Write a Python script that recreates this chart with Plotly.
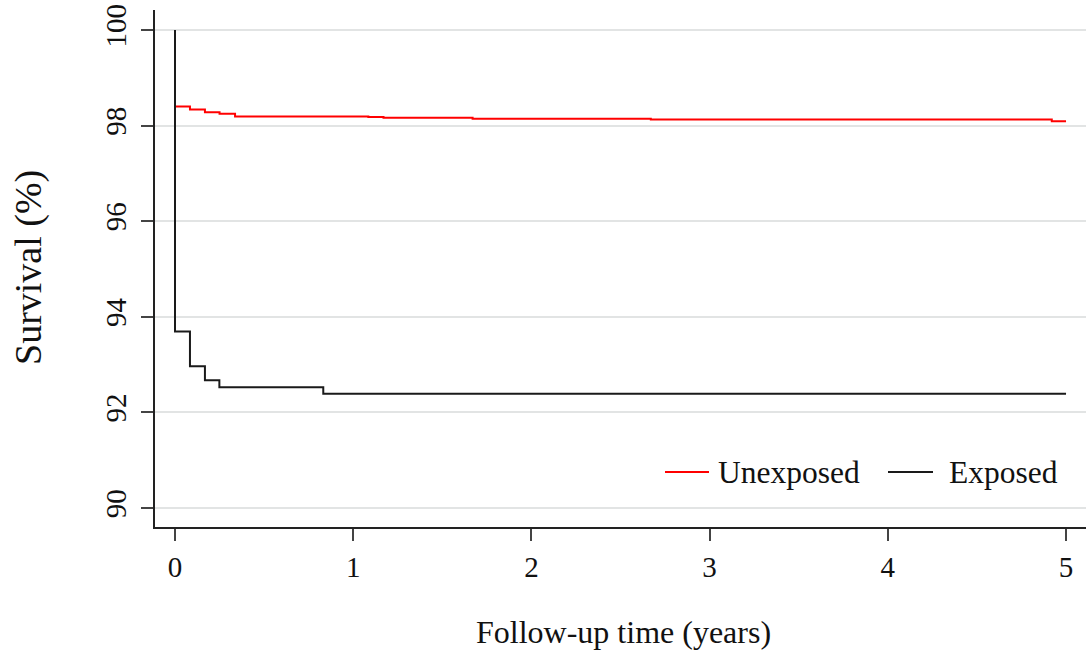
import plotly.graph_objects as go

# Data (Kaplan-Meier step curves, survival %)
unexp_t = [0, 0, 0.084, 0.168, 0.25, 0.337, 1.085, 1.17, 1.67, 2.67, 4.92, 5.0]
unexp_s = [100, 98.40, 98.335, 98.28, 98.245, 98.19, 98.18, 98.165, 98.145, 98.125, 98.09, 98.09]
exp_t = [0, 0, 0.084, 0.168, 0.249, 0.832, 5.0]
exp_s = [100, 93.69, 92.965, 92.67, 92.525, 92.39, 92.39]
x_ticks = [0, 1, 2, 3, 4, 5]
y_ticks = [90, 92, 94, 96, 98, 100]
series_names = ["Unexposed", "Exposed"]
series_colors = ["#ff0000", "#1a1a1a"]

FONT = "Liberation Serif, Times New Roman, serif"

fig = go.Figure()
fig.add_trace(go.Scatter(x=unexp_t, y=unexp_s, mode="lines", line_shape="hv",
                         line=dict(color=series_colors[0], width=2), name=series_names[0],
                         showlegend=False))
fig.add_trace(go.Scatter(x=exp_t, y=exp_s, mode="lines", line_shape="hv",
                         line=dict(color=series_colors[1], width=2), name=series_names[1],
                         showlegend=False))

# body margin is removed by post_script, so the figure fills the window from (0,0)
W, H = 1086, 655
ml, mr, mt, mb = 155, 0, 10, 655 - 527
pw, ph = W - ml - mr, H - mt - mb

def px_x(p):
    return (p - 155) / pw

def px_y(p):
    return (527 - p) / ph

fig.update_layout(
    width=W, height=H,
    margin=dict(l=ml, r=mr, t=mt, b=mb, pad=0, autoexpand=False),
    paper_bgcolor="white", plot_bgcolor="white",
    font=dict(family=FONT, color="#111111"),
    xaxis=dict(range=[-0.1122, 5.112], tickvals=x_ticks, ticktext=[str(v) for v in x_ticks],
               showgrid=False, zeroline=False, showline=True, linecolor="#222222", linewidth=1.5,
               ticks="outside", ticklen=12, tickwidth=1.5, tickcolor="#444444",
               tickfont=dict(size=29, family=FONT, color="#111111"), ticklabelstandoff=1,
               ticklabeloverflow="allow", automargin=False),
    yaxis=dict(range=[89.6025, 100.418], tickvals=y_ticks, ticktext=[str(v) for v in y_ticks],
               showgrid=True, gridcolor="#e2e4e4", gridwidth=1.5, zeroline=False,
               showline=True, linecolor="#222222", linewidth=1.5,
               ticks="outside", ticklen=12, tickwidth=1.5, tickcolor="#444444",
               tickangle=-90, tickfont=dict(size=29, family=FONT, color="#111111"),
               ticklabelstandoff=4, ticklabeloverflow="allow", automargin=False),
    showlegend=False,
)

# Axis titles
fig.add_annotation(text="Follow-up time (years)", xref="paper", yref="paper",
                   x=px_x(623), y=px_y(632), xanchor="center", yanchor="middle", showarrow=False,
                   font=dict(size=32, family=FONT, color="#111111"))
fig.add_annotation(text="Survival (%)", xref="paper", yref="paper",
                   x=px_x(28), y=px_y(267), xanchor="center", yanchor="middle", showarrow=False,
                   textangle=-90, font=dict(size=38, family=FONT, color="#111111"))

# Legend (inside, bottom right)
leg_y = px_y(472)
legend_items = [(665, 709, 716), (888, 933, 947)]
for (x0, x1, xt), name, col in zip(legend_items, series_names, series_colors):
    fig.add_shape(type="line", xref="paper", yref="paper", x0=px_x(x0), x1=px_x(x1),
                  y0=leg_y, y1=leg_y, line=dict(color=col, width=2))
    fig.add_annotation(text=name, xref="paper", yref="paper", x=px_x(xt), y=leg_y,
                       xanchor="left", yanchor="middle", showarrow=False,
                       font=dict(size=31.5, family=FONT, color="#111111"))

fig.write_html("out.html", config={"displayModeBar": False},
               post_script="document.body.style.margin='0';document.body.style.overflow='hidden';")
